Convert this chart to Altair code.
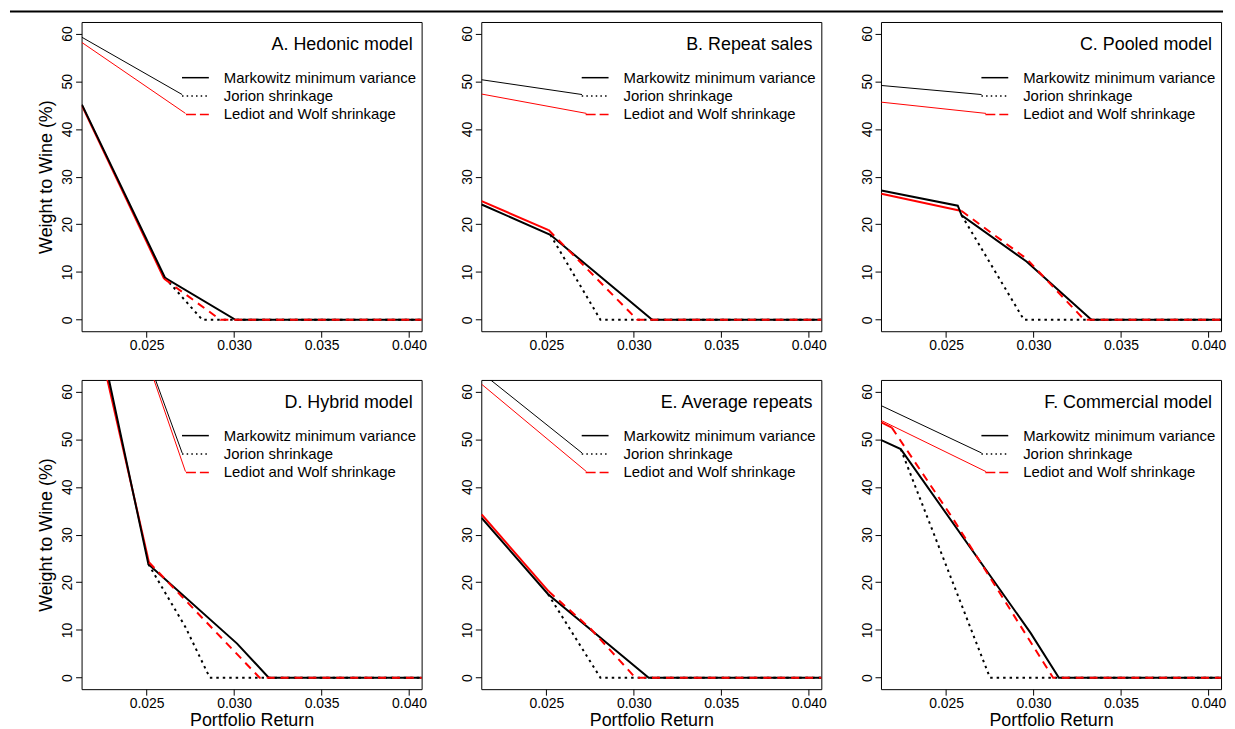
import altair as alt
import pandas as pd

# ---------------- data ----------------
panel_titles = ["A. Hedonic model", "B. Repeat sales", "C. Pooled model",
                "D. Hybrid model", "E. Average repeats", "F. Commercial model"]
legend_labels = ["Markowitz minimum variance", "Jorion shrinkage", "Lediot and Wolf shrinkage"]
x_ticks = [0.025, 0.030, 0.035, 0.040]
y_ticks = [0, 10, 20, 30, 40, 50, 60]
x_domain = [0.02128, 0.04072]
y_domain = [-2.4, 62.4]

# A. Hedonic model
A_mv_x = [0.0213, 0.02605, 0.03008, 0.041]
A_mv_y = [45.1, 8.8, 0, 0]
A_jor_x = [0.02605, 0.02818, 0.041]
A_jor_y = [8.8, 0, 0]
A_lw_x = [0.0213, 0.02600, 0.02922, 0.041]
A_lw_y = [44.9, 8.6, 0, 0]
A_thin_mv_x = [0.0213, 0.02703]
A_thin_mv_y = [59.2, 47.2]
A_thin_lw_x = [0.0213, 0.02722]
A_thin_lw_y = [58.1, 43.25]

# B. Repeat sales
B_mv_x = [0.0213, 0.02523, 0.03105, 0.041]
B_mv_y = [24.15, 17.8, 0, 0]
B_jor_x = [0.02523, 0.02809, 0.041]
B_jor_y = [17.8, 0, 0]
B_lw_x = [0.0213, 0.02513, 0.0302, 0.041]
B_lw_y = [24.85, 18.8, 0, 0]
B_thin_mv_x = [0.0213, 0.02704]
B_thin_mv_y = [50.3, 47.2]
B_thin_lw_x = [0.0213, 0.02729]
B_thin_lw_y = [47.3, 43.25]

# C. Pooled model
C_mv_x = [0.0213, 0.02567, 0.02589, 0.0296, 0.03331, 0.041]
C_mv_y = [27.1, 23.9, 21.9, 12.2, 0, 0]
C_jor_x = [0.02589, 0.02945, 0.041]
C_jor_y = [21.9, 0, 0]
C_lw_x = [0.0213, 0.02589, 0.0296, 0.0329, 0.041]
C_lw_y = [26.4, 22.8, 12.8, 0, 0]
C_thin_mv_x = [0.0213, 0.02703]
C_thin_mv_y = [49.1, 47.2]
C_thin_lw_x = [0.0213, 0.02728]
C_thin_lw_y = [45.6, 43.25]

# D. Hybrid model
D_mv_x = [0.0222, 0.0251, 0.03017, 0.03198, 0.041]
D_mv_y = [73.5, 23.8, 7.15, 0, 0]
D_jor_x = [0.0251, 0.02722, 0.02861, 0.041]
D_jor_y = [23.8, 10.6, 0, 0]
D_lw_x = [0.0221, 0.02513, 0.03146, 0.041]
D_lw_y = [73.0, 24.2, 0, 0]
D_thin_mv_x = [0.02535, 0.02703]
D_thin_mv_y = [64.0, 47.1]
D_thin_lw_x = [0.02527, 0.02722]
D_thin_lw_y = [64.0, 43.2]

# E. Average repeats
E_mv_x = [0.0213, 0.0251, 0.03085, 0.041]
E_mv_y = [33.5, 17.5, 0, 0]
E_jor_x = [0.0251, 0.02809, 0.041]
E_jor_y = [17.5, 0, 0]
E_lw_x = [0.0213, 0.02513, 0.02752, 0.03009, 0.041]
E_lw_y = [34.2, 18.1, 10.3, 0, 0]
E_thin_mv_x = [0.0213, 0.02704]
E_thin_mv_y = [63.9, 47.1]
E_thin_lw_x = [0.0213, 0.02729]
E_thin_lw_y = [61.5, 43.2]

# F. Commercial model
F_mv_x = [0.0213, 0.02241, 0.02983, 0.03145, 0.041]
F_mv_y = [49.8, 47.9, 9.4, 0, 0]
F_jor_x = [0.02241, 0.02751, 0.041]
F_jor_y = [47.9, 0, 0]
F_lw_x = [0.0213, 0.0219, 0.0254, 0.03112, 0.041]
F_lw_y = [53.5, 52.4, 33.3, 0, 0]
F_thin_mv_x = [0.0213, 0.02703]
F_thin_mv_y = [57.0, 47.1]
F_thin_lw_x = [0.0213, 0.02728]
F_thin_lw_y = [53.9, 43.2]

# ---------------- layout / style ----------------
W, H = 342, 311
FONT = "Liberation Sans"
BLACK = "#000000"
RED = "#ff0000"


def make_panel(idx, mv, jor, lw, thin_mv, thin_lw, show_xtitle, show_ytitle, top_rule=False):
    xaxis = alt.Axis(values=x_ticks, format=".3f", tickSize=6, labelPadding=1,
                     labelFlush=False, labelOverlap=False, domain=False, grid=False,
                     titleY=37, titleBaseline="alphabetic")
    yaxis = alt.Axis(values=y_ticks, tickSize=6, labelPadding=1, labelAngle=270,
                     labelAlign="center", labelBaseline="bottom", labelFlush=False,
                     labelOverlap=False, domain=False, grid=False,
                     titleX=-35, titleY=H / 2, titleAngle=270, titleAlign="center",
                     titleBaseline="middle")
    X = alt.X("x:Q", scale=alt.Scale(domain=x_domain, nice=False, zero=False), axis=xaxis,
              title="Portfolio Return" if show_xtitle else None)
    Y = alt.Y("y:Q", scale=alt.Scale(domain=y_domain, nice=False, zero=False), axis=yaxis,
              title="Weight to Wine (%)" if show_ytitle else None)

    def line(xs, ys, color, width, dash=None):
        df = pd.DataFrame({"x": xs, "y": ys, "i": list(range(len(xs)))})
        kw = dict(color=color, strokeWidth=width, clip=True, strokeCap="butt")
        if dash:
            kw["strokeDash"] = dash
        return alt.Chart(df).mark_line(**kw).encode(x=X, y=Y, order="i:Q")

    layers = [
        line(thin_mv[0], thin_mv[1], BLACK, 1),
        line(thin_lw[0], thin_lw[1], RED, 1),
        line(lw[0][:2], lw[1][:2], RED, 2),
        line(mv[0], mv[1], BLACK, 2),
        line(jor[0], jor[1], BLACK, 2, [2.5, 4]),
        line(lw[0][1:], lw[1][1:], RED, 2, [8, 6]),
    ]

    one = pd.DataFrame({"a": [0]})
    rows_y = [56, 74.5, 93]
    key_specs = [(BLACK, None, 101), (BLACK, [1.5, 3.2], 101), (RED, [10, 4], 105)]
    for (col, dash, x0), yy, lab in zip(key_specs, rows_y, legend_labels):
        kw = dict(color=col, strokeWidth=1.5)
        if dash:
            kw["strokeDash"] = dash
        layers.append(alt.Chart(one).mark_rule(**kw).encode(
            x=alt.value(x0), x2=alt.value(128), y=alt.value(yy)))
        layers.append(alt.Chart(pd.DataFrame({"t": [lab]})).mark_text(
            align="left", baseline="middle", fontSize=15, font=FONT, color=BLACK
        ).encode(x=alt.value(143), y=alt.value(yy), text="t:N"))

    layers.append(alt.Chart(pd.DataFrame({"t": [panel_titles[idx]]})).mark_text(
        align="right", baseline="middle", fontSize=18, font=FONT, color=BLACK
    ).encode(x=alt.value(333), y=alt.value(23.5), text="t:N"))

    if top_rule:
        layers.append(alt.Chart(one).mark_rule(color=BLACK, strokeWidth=2).encode(
            x=alt.value(-72), x2=alt.value(1148), y=alt.value(-10.5)))

    return alt.layer(*layers).properties(width=W, height=H)


pA = make_panel(0, (A_mv_x, A_mv_y), (A_jor_x, A_jor_y), (A_lw_x, A_lw_y),
                (A_thin_mv_x, A_thin_mv_y), (A_thin_lw_x, A_thin_lw_y), False, True, top_rule=True)
pB = make_panel(1, (B_mv_x, B_mv_y), (B_jor_x, B_jor_y), (B_lw_x, B_lw_y),
                (B_thin_mv_x, B_thin_mv_y), (B_thin_lw_x, B_thin_lw_y), False, False)
pC = make_panel(2, (C_mv_x, C_mv_y), (C_jor_x, C_jor_y), (C_lw_x, C_lw_y),
                (C_thin_mv_x, C_thin_mv_y), (C_thin_lw_x, C_thin_lw_y), False, False)
pD = make_panel(3, (D_mv_x, D_mv_y), (D_jor_x, D_jor_y), (D_lw_x, D_lw_y),
                (D_thin_mv_x, D_thin_mv_y), (D_thin_lw_x, D_thin_lw_y), True, True)
pE = make_panel(4, (E_mv_x, E_mv_y), (E_jor_x, E_jor_y), (E_lw_x, E_lw_y),
                (E_thin_mv_x, E_thin_mv_y), (E_thin_lw_x, E_thin_lw_y), True, False)
pF = make_panel(5, (F_mv_x, F_mv_y), (F_jor_x, F_jor_y), (F_lw_x, F_lw_y),
                (F_thin_mv_x, F_thin_mv_y), (F_thin_lw_x, F_thin_lw_y), True, False)

chart = alt.concat(
    pA, pB, pC, pD, pE, pF, columns=3,
    spacing=alt.RowColnumber(row=49, column=60), bounds="flush"
).properties(
    padding=0, background="white"
).configure_view(
    stroke=BLACK, strokeWidth=1
).configure_axis(
    labelFont=FONT, titleFont=FONT, labelFontSize=14, titleFontSize=18,
    titleFontWeight="normal", labelColor=BLACK, titleColor=BLACK,
    tickColor=BLACK, tickWidth=1
)

chart.save("out.html", embed_options={"renderer": "svg", "actions": False})
